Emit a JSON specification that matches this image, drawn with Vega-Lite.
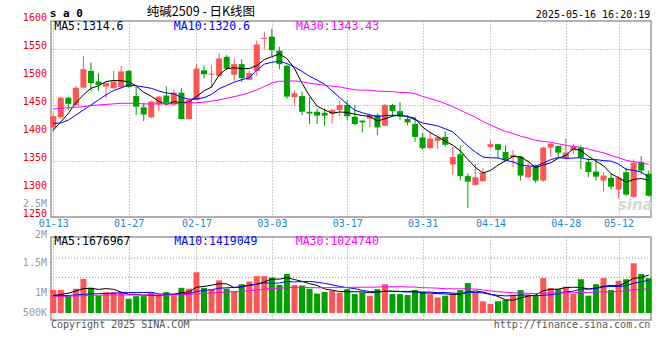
{
 "$schema": "https://vega.github.io/schema/vega-lite/v6.json",
 "background": "white",
 "padding": {"left": 22, "top": 5, "right": 0, "bottom": 0},
 "bounds": "flush",
 "spacing": 20,
 "config": {
  "view": {"stroke": "#9a9a9a", "strokeWidth": 1.5},
  "axis": {"labelFont": "DejaVu Sans Mono", "labelFontSize": 10, "labelOverlap": false, "ticks": false, "domain": false, "gridColor": "#9a9a9a", "gridDash": [1, 2], "gridWidth": 1},
  "text": {"font": "DejaVu Sans Mono"}
 },
 "datasets": {
  "k": [
   {"d":"01-13","o":1410,"h":1436,"l":1402,"c":1430,"v":1030000,"m5":1405,"m10":1417,"m30":1443,"vm5":780000,"vm10":770000,"vm30":740000},
   {"d":"01-14","o":1428,"h":1465,"l":1425,"c":1463,"v":1030000,"m5":1420,"m10":1418,"m30":1444,"vm5":820000,"vm10":770000,"vm30":740000},
   {"d":"01-15","o":1463,"h":1465,"l":1441,"c":1452,"v":750000,"m5":1435,"m10":1423,"m30":1445,"vm5":880000,"vm10":780000,"vm30":750000},
   {"d":"01-16","o":1450,"h":1484,"l":1448,"c":1481,"v":1080000,"m5":1454,"m10":1432,"m30":1446,"vm5":980000,"vm10":800000,"vm30":760000},
   {"d":"01-17","o":1481,"h":1537,"l":1480,"c":1514,"v":1520000,"m5":1468,"m10":1441,"m30":1447,"vm5":1082000,"vm10":830000,"vm30":770000},
   {"d":"01-20","o":1511,"h":1526,"l":1474,"c":1489,"v":1120000,"m5":1479.8,"m10":1450,"m30":1449,"vm5":1100000,"vm10":850000,"vm30":780000},
   {"d":"01-21","o":1492,"h":1507,"l":1475,"c":1486,"v":770000,"m5":1484.4,"m10":1459,"m30":1450,"vm5":1048000,"vm10":860000,"vm30":790000},
   {"d":"01-22","o":1483,"h":1490,"l":1462,"c":1489,"v":930000,"m5":1491.8,"m10":1468,"m30":1451,"vm5":1084000,"vm10":870000,"vm30":800000},
   {"d":"01-23","o":1480,"h":1511,"l":1479,"c":1492,"v":930000,"m5":1494,"m10":1476,"m30":1452,"vm5":1054000,"vm10":880000,"vm30":800000},
   {"d":"01-24","o":1482,"h":1520,"l":1480,"c":1510,"v":900000,"m5":1493.2,"m10":1480.6,"m30":1453,"vm5":930000,"vm10":900000,"vm30":800000},
   {"d":"01-27","o":1511,"h":1512,"l":1481,"c":1482,"v":630000,"m5":1491.8,"m10":1485.8,"m30":1453,"vm5":832000,"vm10":910000,"vm30":800000},
   {"d":"02-05","o":1466,"h":1483,"l":1432,"c":1447,"v":750000,"m5":1484,"m10":1484.2,"m30":1453,"vm5":828000,"vm10":910000,"vm30":800000},
   {"d":"02-06","o":1446,"h":1454,"l":1421,"c":1433,"v":750000,"m5":1472.8,"m10":1482.3,"m30":1452,"vm5":792000,"vm10":910000,"vm30":800000},
   {"d":"02-07","o":1428,"h":1458,"l":1426,"c":1456,"v":930000,"m5":1465.6,"m10":1479.8,"m30":1452,"vm5":792000,"vm10":920000,"vm30":800000},
   {"d":"02-10","o":1451,"h":1466,"l":1439,"c":1465,"v":780000,"m5":1456.6,"m10":1474.9,"m30":1452,"vm5":768000,"vm10":849000,"vm30":800000},
   {"d":"02-11","o":1467,"h":1483,"l":1452,"c":1454,"v":930000,"m5":1451,"m10":1471.4,"m30":1452,"vm5":828000,"vm10":830000,"vm30":800000},
   {"d":"02-12","o":1451,"h":1478,"l":1450,"c":1472,"v":780000,"m5":1456,"m10":1470,"m30":1452,"vm5":834000,"vm10":831000,"vm30":800000},
   {"d":"02-13","o":1472,"h":1480,"l":1424,"c":1425,"v":1120000,"m5":1454.4,"m10":1463.6,"m30":1453,"vm5":908000,"vm10":850000,"vm30":810000},
   {"d":"02-14","o":1425,"h":1461,"l":1424,"c":1459,"v":1080000,"m5":1455,"m10":1460.3,"m30":1454,"vm5":938000,"vm10":865000,"vm30":830000},
   {"d":"02-17","o":1459,"h":1523,"l":1458,"c":1515,"v":1810000,"m5":1465,"m10":1460.8,"m30":1454,"vm5":1144000,"vm10":956000,"vm30":850000},
   {"d":"02-18","o":1512,"h":1521,"l":1497,"c":1505,"v":1110000,"m5":1475.2,"m10":1463.1,"m30":1455,"vm5":1180000,"vm10":1004000,"vm30":870000},
   {"d":"02-19","o":1504,"h":1521,"l":1480,"c":1506,"v":1050000,"m5":1482,"m10":1469,"m30":1457,"vm5":1234000,"vm10":1034000,"vm30":890000},
   {"d":"02-20","o":1502,"h":1543,"l":1500,"c":1533,"v":1450000,"m5":1503.6,"m10":1479,"m30":1459,"vm5":1300000,"vm10":1104000,"vm30":910000},
   {"d":"02-21","o":1536,"h":1539,"l":1512,"c":1515,"v":1080000,"m5":1514.8,"m10":1484.9,"m30":1462,"vm5":1300000,"vm10":1119000,"vm30":930000},
   {"d":"02-24","o":1504,"h":1533,"l":1493,"c":1523,"v":960000,"m5":1516.4,"m10":1490.7,"m30":1465,"vm5":1130000,"vm10":1137000,"vm30":950000},
   {"d":"02-25","o":1523,"h":1532,"l":1491,"c":1498,"v":1280000,"m5":1515,"m10":1495.1,"m30":1468,"vm5":1164000,"vm10":1172000,"vm30":970000},
   {"d":"02-26","o":1495,"h":1512,"l":1494,"c":1507,"v":1400000,"m5":1515.2,"m10":1498.6,"m30":1472,"vm5":1234000,"vm10":1234000,"vm30":990000},
   {"d":"02-27","o":1511,"h":1565,"l":1502,"c":1558,"v":1640000,"m5":1520.2,"m10":1511.9,"m30":1477,"vm5":1272000,"vm10":1286000,"vm30":1020000},
   {"d":"02-28","o":1568,"h":1581,"l":1550,"c":1570,"v":1640000,"m5":1531.2,"m10":1523,"m30":1483,"vm5":1384000,"vm10":1342000,"vm30":1050000},
   {"d":"03-03","o":1572,"h":1586,"l":1537,"c":1548,"v":1580000,"m5":1536.2,"m10":1526.3,"m30":1489.2,"vm5":1508000,"vm10":1319000,"vm30":1094000},
   {"d":"03-04","o":1547,"h":1554,"l":1514,"c":1523,"v":1250000,"m5":1541.2,"m10":1528.1,"m30":1492.3,"vm5":1502000,"vm10":1333000,"vm30":1101000},
   {"d":"03-05","o":1520,"h":1522,"l":1461,"c":1465,"v":1730000,"m5":1532.8,"m10":1524,"m30":1492.4,"vm5":1568000,"vm10":1401000,"vm30":1124000},
   {"d":"03-06","o":1464,"h":1476,"l":1449,"c":1471,"v":1240000,"m5":1515.4,"m10":1517.8,"m30":1493,"vm5":1488000,"vm10":1380000,"vm30":1141000},
   {"d":"03-07","o":1466,"h":1474,"l":1432,"c":1438,"v":1220000,"m5":1489,"m10":1510.1,"m30":1491.6,"vm5":1404000,"vm10":1394000,"vm30":1145000},
   {"d":"03-10","o":1438,"h":1464,"l":1416,"c":1435,"v":1080000,"m5":1466.4,"m10":1501.3,"m30":1489,"vm5":1304000,"vm10":1406000,"vm30":1131000},
   {"d":"03-11","o":1438,"h":1444,"l":1416,"c":1431,"v":860000,"m5":1448,"m10":1494.6,"m30":1487,"vm5":1226000,"vm10":1364000,"vm30":1122000},
   {"d":"03-12","o":1436,"h":1444,"l":1413,"c":1431,"v":930000,"m5":1441.2,"m10":1487,"m30":1485.2,"vm5":1066000,"vm10":1317000,"vm30":1127000},
   {"d":"03-13","o":1435,"h":1444,"l":1417,"c":1441,"v":990000,"m5":1435.2,"m10":1475.3,"m30":1483.6,"vm5":1016000,"vm10":1252000,"vm30":1129000},
   {"d":"03-14","o":1441,"h":1458,"l":1430,"c":1450,"v":900000,"m5":1437.6,"m10":1463.3,"m30":1482.2,"vm5":952000,"vm10":1178000,"vm30":1128000},
   {"d":"03-17","o":1450,"h":1459,"l":1423,"c":1430,"v":1060000,"m5":1436.6,"m10":1451.5,"m30":1479.5,"vm5":948000,"vm10":1126000,"vm30":1134000},
   {"d":"03-18","o":1429,"h":1450,"l":1414,"c":1416,"v":840000,"m5":1433.6,"m10":1440.8,"m30":1477.3,"vm5":944000,"vm10":1085000,"vm30":1141000},
   {"d":"03-19","o":1422,"h":1423,"l":1401,"c":1419,"v":910000,"m5":1431.2,"m10":1436.2,"m30":1476.4,"vm5":940000,"vm10":1003000,"vm30":1146000},
   {"d":"03-20","o":1426,"h":1435,"l":1411,"c":1432,"v":770000,"m5":1429.4,"m10":1432.3,"m30":1476.4,"vm5":896000,"vm10":956000,"vm30":1147000},
   {"d":"03-21","o":1432,"h":1435,"l":1396,"c":1410,"v":1060000,"m5":1421.4,"m10":1429.5,"m30":1474.8,"vm5":928000,"vm10":940000,"vm30":1151000},
   {"d":"03-24","o":1413,"h":1452,"l":1412,"c":1450,"v":1280000,"m5":1425.4,"m10":1431,"m30":1474.3,"vm5":972000,"vm10":960000,"vm30":1168000},
   {"d":"03-25","o":1450,"h":1452,"l":1429,"c":1439,"v":840000,"m5":1430,"m10":1431.8,"m30":1473.8,"vm5":972000,"vm10":958000,"vm30":1165000},
   {"d":"03-26","o":1439,"h":1455,"l":1423,"c":1429,"v":840000,"m5":1432,"m10":1431.6,"m30":1472.4,"vm5":958000,"vm10":949000,"vm30":1167000},
   {"d":"03-27","o":1425,"h":1432,"l":1414,"c":1419,"v":800000,"m5":1429.4,"m10":1429.4,"m30":1472.2,"vm5":964000,"vm10":930000,"vm30":1156000},
   {"d":"03-28","o":1416,"h":1429,"l":1384,"c":1393,"v":1020000,"m5":1426,"m10":1423.7,"m30":1470,"vm5":956000,"vm10":942000,"vm30":1154000},
   {"d":"03-31","o":1392,"h":1400,"l":1370,"c":1373,"v":940000,"m5":1410.6,"m10":1418,"m30":1465.3,"vm5":888000,"vm10":930000,"vm30":1125000},
   {"d":"04-01","o":1373,"h":1402,"l":1371,"c":1390,"v":840000,"m5":1400.8,"m10":1415.4,"m30":1461.4,"vm5":888000,"vm10":930000,"vm30":1116000},
   {"d":"04-02","o":1386,"h":1394,"l":1372,"c":1392,"v":690000,"m5":1393.4,"m10":1412.7,"m30":1457.6,"vm5":858000,"vm10":908000,"vm30":1104000},
   {"d":"04-03","o":1393,"h":1403,"l":1376,"c":1379,"v":770000,"m5":1385.4,"m10":1407.4,"m30":1452.5,"vm5":852000,"vm10":908000,"vm30":1081000},
   {"d":"04-07","o":1344,"h":1375,"l":1326,"c":1357,"v":870000,"m5":1378.2,"m10":1402.1,"m30":1447.2,"vm5":822000,"vm10":889000,"vm30":1074000},
   {"d":"04-08","o":1362,"h":1377,"l":1315,"c":1323,"v":1020000,"m5":1368.2,"m10":1389.4,"m30":1440.6,"vm5":838000,"vm10":863000,"vm30":1076000},
   {"d":"04-09","o":1323,"h":1328,"l":1266,"c":1313,"v":1330000,"m5":1352.8,"m10":1376.8,"m30":1434.4,"vm5":936000,"vm10":912000,"vm30":1078000},
   {"d":"04-10","o":1307,"h":1345,"l":1306,"c":1321,"v":910000,"m5":1338.6,"m10":1366,"m30":1428.2,"vm5":980000,"vm10":919000,"vm30":1062000},
   {"d":"04-11","o":1314,"h":1337,"l":1313,"c":1329,"v":520000,"m5":1328.6,"m10":1357,"m30":1420.6,"vm5":930000,"vm10":891000,"vm30":1024000},
   {"d":"04-14","o":1375,"h":1387,"l":1374,"c":1380,"v":400000,"m5":1333.2,"m10":1355.7,"m30":1414.2,"vm5":836000,"vm10":829000,"vm30":983000},
   {"d":"04-15","o":1380,"h":1380,"l":1355,"c":1370,"v":520000,"m5":1342.6,"m10":1355.4,"m30":1408.3,"vm5":736000,"vm10":787000,"vm30":948000},
   {"d":"04-16","o":1366,"h":1378,"l":1350,"c":1351,"v":590000,"m5":1350.2,"m10":1351.5,"m30":1402.6,"vm5":588000,"vm10":762000,"vm30":926000},
   {"d":"04-17","o":1357,"h":1370,"l":1339,"c":1361,"v":810000,"m5":1358.2,"m10":1348.4,"m30":1399.1,"vm5":568000,"vm10":774000,"vm30":895000},
   {"d":"04-18","o":1358,"h":1359,"l":1315,"c":1324,"v":1020000,"m5":1357.2,"m10":1342.9,"m30":1394.2,"vm5":668000,"vm10":799000,"vm30":888000},
   {"d":"04-21","o":1321,"h":1349,"l":1319,"c":1340,"v":810000,"m5":1349.2,"m10":1341.2,"m30":1390.9,"vm5":750000,"vm10":793000,"vm30":874000},
   {"d":"04-22","o":1342,"h":1344,"l":1311,"c":1315,"v":770000,"m5":1338.2,"m10":1340.4,"m30":1386.9,"vm5":800000,"vm10":768000,"vm30":864000},
   {"d":"04-23","o":1315,"h":1375,"l":1313,"c":1374,"v":1550000,"m5":1342.8,"m10":1346.5,"m30":1385,"vm5":992000,"vm10":790000,"vm30":887000},
   {"d":"04-24","o":1374,"h":1382,"l":1357,"c":1381,"v":1110000,"m5":1346.8,"m10":1352.5,"m30":1383.4,"vm5":1052000,"vm10":810000,"vm30":893000},
   {"d":"04-25","o":1377,"h":1377,"l":1357,"c":1365,"v":1060000,"m5":1355,"m10":1356.1,"m30":1380.8,"vm5":1060000,"vm10":864000,"vm30":895000},
   {"d":"04-28","o":1355,"h":1390,"l":1353,"c":1365,"v":1170000,"m5":1360,"m10":1354.6,"m30":1378,"vm5":1132000,"vm10":941000,"vm30":904000},
   {"d":"04-29","o":1369,"h":1381,"l":1363,"c":1376,"v":840000,"m5":1372.2,"m10":1355.2,"m30":1376.2,"vm5":1146000,"vm10":973000,"vm30":897000},
   {"d":"04-30","o":1374,"h":1378,"l":1335,"c":1356,"v":1500000,"m5":1368.6,"m10":1355.7,"m30":1374.2,"vm5":1136000,"vm10":1064000,"vm30":919000},
   {"d":"05-06","o":1348,"h":1355,"l":1321,"c":1330,"v":770000,"m5":1358.4,"m10":1352.6,"m30":1371.2,"vm5":1068000,"vm10":1060000,"vm30":914000},
   {"d":"05-07","o":1331,"h":1353,"l":1315,"c":1322,"v":1280000,"m5":1349.8,"m10":1352.4,"m30":1367.6,"vm5":1112000,"vm10":1086000,"vm30":931000},
   {"d":"05-08","o":1315,"h":1330,"l":1296,"c":1324,"v":1550000,"m5":1341.6,"m10":1350.8,"m30":1364.7,"vm5":1188000,"vm10":1160000,"vm30":947000},
   {"d":"05-09","o":1320,"h":1328,"l":1299,"c":1304,"v":1020000,"m5":1327.2,"m10":1349.7,"m30":1359.8,"vm5":1224000,"vm10":1185000,"vm30":939000},
   {"d":"05-12","o":1299,"h":1323,"l":1283,"c":1320,"v":1430000,"m5":1320,"m10":1344.3,"m30":1355.9,"vm5":1210000,"vm10":1173000,"vm30":958000},
   {"d":"05-13","o":1330,"h":1338,"l":1287,"c":1290,"v":1500000,"m5":1312,"m10":1335.2,"m30":1351.2,"vm5":1356000,"vm10":1212000,"vm30":980000},
   {"d":"05-14","o":1286,"h":1353,"l":1284,"c":1347,"v":2210000,"m5":1317,"m10":1333.4,"m30":1348.8,"vm5":1542000,"vm10":1327000,"vm30":1027000},
   {"d":"05-15","o":1348,"h":1359,"l":1326,"c":1333,"v":1730000,"m5":1318.8,"m10":1330.2,"m30":1346.8,"vm5":1578000,"vm10":1383000,"vm30":1051000},
   {"d":"05-16","o":1327,"h":1333,"l":1286,"c":1288,"v":1550000,"m5":1315.6,"m10":1321.4,"m30":1344,"vm5":1684000,"vm10":1454000,"vm30":1071000}
  ]
 },
 "vconcat": [
  {
   "width": 600,
   "height": 196,
   "layer": [
    {
     "data": {"name": "k"},
     "mark": {"type": "rule", "strokeWidth": 1},
     "encoding": {
      "x": {"field": "d", "type": "ordinal", "title": null,
       "scale": {"type": "point", "padding": 0.3, "domain": ["01-13","01-14","01-15","01-16","01-17","01-20","01-21","01-22","01-23","01-24","01-27","02-05","02-06","02-07","02-10","02-11","02-12","02-13","02-14","02-17","02-18","02-19","02-20","02-21","02-24","02-25","02-26","02-27","02-28","03-03","03-04","03-05","03-06","03-07","03-10","03-11","03-12","03-13","03-14","03-17","03-18","03-19","03-20","03-21","03-24","03-25","03-26","03-27","03-28","03-31","04-01","04-02","04-03","04-07","04-08","04-09","04-10","04-11","04-14","04-15","04-16","04-17","04-18","04-21","04-22","04-23","04-24","04-25","04-28","04-29","04-30","05-06","05-07","05-08","05-09","05-12","05-13","05-14","05-15","05-16"]},
       "axis": {"values": ["01-13","01-27","02-17","03-03","03-17","03-31","04-14","04-28","05-12"], "labelColor": "#1a88d0", "labelFontSize": 10, "labelPadding": 1.5, "labelOverlap": false, "grid": true, "labelAngle": 0}},
      "y": {"field": "l", "type": "quantitative", "title": null,
       "scale": {"domain": [1250, 1600], "nice": false, "zero": false},
       "axis": {"values": [1250, 1300, 1350, 1400, 1450, 1500, 1550, 1600], "labels": false, "grid": true}},
      "y2": {"field": "h"},
      "color": {"condition": {"test": "datum.c >= datum.o", "value": "#ff5555"}, "value": "#00a000"}
     }
    },
    {
     "data": {"name": "k"},
     "mark": {"type": "bar", "size": 6},
     "encoding": {
      "x": {"field": "d", "type": "ordinal"},
      "y": {"field": "o", "type": "quantitative", "title": null},
      "y2": {"field": "c"},
      "color": {"condition": {"test": "datum.c >= datum.o", "value": "#ff5555"}, "value": "#00a000"}
     }
    },
    {
     "data": {"name": "k"},
     "mark": {"type": "line", "color": "#000000", "strokeWidth": 1},
     "encoding": {"x": {"field": "d", "type": "ordinal"}, "y": {"field": "m5", "type": "quantitative", "title": null}}
    },
    {
     "data": {"name": "k"},
     "mark": {"type": "line", "color": "#0000ff", "strokeWidth": 1},
     "encoding": {"x": {"field": "d", "type": "ordinal"}, "y": {"field": "m10", "type": "quantitative", "title": null}}
    },
    {
     "data": {"name": "k"},
     "mark": {"type": "line", "color": "#ff00ff", "strokeWidth": 1},
     "encoding": {"x": {"field": "d", "type": "ordinal"}, "y": {"field": "m30", "type": "quantitative", "title": null}}
    },
    {"data": {"values": [{}]}, "mark": {"type": "text", "align": "right", "baseline": "middle", "dx": -6.3, "dy": -2.8, "fontSize": 10, "color": "#ee0000"},
     "encoding": {"x": {"datum": "01-13", "type": "ordinal"}, "y": {"datum": 1600, "type": "quantitative"}, "text": {"value": "1600"}}},
    {"data": {"values": [{}]}, "mark": {"type": "text", "align": "right", "baseline": "middle", "dx": -6.3, "dy": -2.8, "fontSize": 10, "color": "#ee0000"},
     "encoding": {"x": {"datum": "01-13", "type": "ordinal"}, "y": {"datum": 1550, "type": "quantitative"}, "text": {"value": "1550"}}},
    {"data": {"values": [{}]}, "mark": {"type": "text", "align": "right", "baseline": "middle", "dx": -6.3, "dy": -2.8, "fontSize": 10, "color": "#ee0000"},
     "encoding": {"x": {"datum": "01-13", "type": "ordinal"}, "y": {"datum": 1500, "type": "quantitative"}, "text": {"value": "1500"}}},
    {"data": {"values": [{}]}, "mark": {"type": "text", "align": "right", "baseline": "middle", "dx": -6.3, "dy": -2.8, "fontSize": 10, "color": "#ee0000"},
     "encoding": {"x": {"datum": "01-13", "type": "ordinal"}, "y": {"datum": 1450, "type": "quantitative"}, "text": {"value": "1450"}}},
    {"data": {"values": [{}]}, "mark": {"type": "text", "align": "right", "baseline": "middle", "dx": -6.3, "dy": -2.8, "fontSize": 10, "color": "#ee0000"},
     "encoding": {"x": {"datum": "01-13", "type": "ordinal"}, "y": {"datum": 1400, "type": "quantitative"}, "text": {"value": "1400"}}},
    {"data": {"values": [{}]}, "mark": {"type": "text", "align": "right", "baseline": "middle", "dx": -6.3, "dy": -2.8, "fontSize": 10, "color": "#ee0000"},
     "encoding": {"x": {"datum": "01-13", "type": "ordinal"}, "y": {"datum": 1350, "type": "quantitative"}, "text": {"value": "1350"}}},
    {"data": {"values": [{}]}, "mark": {"type": "text", "align": "right", "baseline": "middle", "dx": -6.3, "dy": -2.8, "fontSize": 10, "color": "#ee0000"},
     "encoding": {"x": {"datum": "01-13", "type": "ordinal"}, "y": {"datum": 1300, "type": "quantitative"}, "text": {"value": "1300"}}},
    {"data": {"values": [{}]}, "mark": {"type": "text", "align": "right", "baseline": "middle", "dx": -6.3, "dy": -3.2, "fontSize": 10, "color": "#ee0000"},
     "encoding": {"x": {"datum": "01-13", "type": "ordinal"}, "y": {"datum": 1250, "type": "quantitative"}, "text": {"value": "1250"}}},
    {"data": {"values": [{}]}, "mark": {"type": "text", "align": "right", "baseline": "middle", "dx": -6.3, "fontSize": 10, "color": "#999999"},
     "encoding": {"x": {"datum": "01-13", "type": "ordinal"}, "y": {"datum": 1274, "type": "quantitative"}, "text": {"value": "2.5M"}}},
    {
     "data": {"values": [{}]},
     "mark": {"type": "text", "align": "right", "baseline": "middle", "dx": 4, "dy": -12, "fontSize": 15, "fontStyle": "italic", "fontWeight": "bold", "font": "DejaVu Sans", "color": "#d6d6d6"},
     "encoding": {"x": {"datum": "05-16", "type": "ordinal"}, "y": {"datum": 1250, "type": "quantitative"}, "text": {"value": "sina"}}
    },
    {
     "data": {"values": [{}]},
     "mark": {"type": "text", "align": "left", "baseline": "alphabetic", "dx": 1, "dy": 8.5, "fontSize": 11.5, "color": "#000000"},
     "encoding": {"x": {"datum": "01-13", "type": "ordinal"}, "y": {"datum": 1600, "type": "quantitative"}, "text": {"value": "MA5:1314.6"}}
    },
    {
     "data": {"values": [{}]},
     "mark": {"type": "text", "align": "left", "baseline": "alphabetic", "dx": 0, "dy": 8.5, "fontSize": 11.5, "color": "#0000ff"},
     "encoding": {"x": {"datum": "02-12", "type": "ordinal"}, "y": {"datum": 1600, "type": "quantitative"}, "text": {"value": "MA10:1320.6"}}
    },
    {
     "data": {"values": [{}]},
     "mark": {"type": "text", "align": "left", "baseline": "alphabetic", "dx": 1.6, "dy": 8.5, "fontSize": 11.5, "color": "#ff00ff"},
     "encoding": {"x": {"datum": "03-06", "type": "ordinal"}, "y": {"datum": 1600, "type": "quantitative"}, "text": {"value": "MA30:1343.43"}}
    },
    {
     "data": {"values": [{}]},
     "mark": {"type": "text", "align": "left", "baseline": "middle", "dx": -3.5, "dy": -7, "fontSize": 11, "fontWeight": "bold", "color": "#000000"},
     "encoding": {"x": {"datum": "01-13", "type": "ordinal"}, "y": {"datum": 1600, "type": "quantitative"}, "text": {"value": "s a 0"}}
    },
    {
     "data": {"values": [{}]},
     "mark": {"type": "text", "align": "center", "baseline": "middle", "dx": 4.5, "dy": -9.2, "fontSize": 12.5, "font": "Noto Sans CJK SC", "color": "#000000"},
     "encoding": {"x": {"datum": "02-17", "type": "ordinal"}, "y": {"datum": 1600, "type": "quantitative"}, "text": {"value": "纯碱2509 - 日K线图"}}
    },
    {
     "data": {"values": [{}]},
     "mark": {"type": "text", "align": "right", "baseline": "middle", "dx": 1.5, "dy": -6.3, "fontSize": 10, "color": "#000000"},
     "encoding": {"x": {"datum": "05-16", "type": "ordinal"}, "y": {"datum": 1600, "type": "quantitative"}, "text": {"value": "2025-05-16 16:20:19"}}
    }
   ]
  },
  {
   "width": 600,
   "height": 83,
   "layer": [
    {
     "data": {"values": [{}]},
     "mark": {"type": "rule", "color": "#9a9a9a", "strokeDash": [1, 2]},
     "encoding": {"y": {"datum": 1580000, "type": "quantitative"}}
    },
    {
     "data": {"values": [{}]},
     "mark": {"type": "rule", "color": "#9a9a9a", "strokeDash": [1, 2]},
     "encoding": {"y": {"datum": 2434000, "type": "quantitative"}}
    },
    {
     "data": {"name": "k"},
     "mark": {"type": "bar", "size": 6},
     "encoding": {
      "x": {"field": "d", "type": "ordinal", "title": null,
       "scale": {"type": "point", "padding": 0.3, "domain": ["01-13","01-14","01-15","01-16","01-17","01-20","01-21","01-22","01-23","01-24","01-27","02-05","02-06","02-07","02-10","02-11","02-12","02-13","02-14","02-17","02-18","02-19","02-20","02-21","02-24","02-25","02-26","02-27","02-28","03-03","03-04","03-05","03-06","03-07","03-10","03-11","03-12","03-13","03-14","03-17","03-18","03-19","03-20","03-21","03-24","03-25","03-26","03-27","03-28","03-31","04-01","04-02","04-03","04-07","04-08","04-09","04-10","04-11","04-14","04-15","04-16","04-17","04-18","04-21","04-22","04-23","04-24","04-25","04-28","04-29","04-30","05-06","05-07","05-08","05-09","05-12","05-13","05-14","05-15","05-16"]},
       "axis": {"values": ["01-13","01-27","02-17","03-03","03-17","03-31","04-14","04-28","05-12"], "labels": false, "grid": true}},
      "y": {"field": "v", "type": "quantitative", "title": null,
       "scale": {"domain": [-310000, 3376000], "nice": false, "zero": false},
       "axis": {"labels": false, "grid": false}},
      "y2": {"datum": 0},
      "color": {"condition": {"test": "datum.c >= datum.o", "value": "#ff5555"}, "value": "#00a000"}
     }
    },
    {
     "data": {"name": "k"},
     "mark": {"type": "line", "color": "#000000", "strokeWidth": 1},
     "encoding": {"x": {"field": "d", "type": "ordinal"}, "y": {"field": "vm5", "type": "quantitative", "title": null}}
    },
    {
     "data": {"name": "k"},
     "mark": {"type": "line", "color": "#0000ff", "strokeWidth": 1},
     "encoding": {"x": {"field": "d", "type": "ordinal"}, "y": {"field": "vm10", "type": "quantitative", "title": null}}
    },
    {
     "data": {"name": "k"},
     "mark": {"type": "line", "color": "#ff00ff", "strokeWidth": 1},
     "encoding": {"x": {"field": "d", "type": "ordinal"}, "y": {"field": "vm30", "type": "quantitative", "title": null}}
    },
    {
     "data": {"values": [{}]},
     "mark": {"type": "text", "align": "right", "baseline": "middle", "dx": -6.3, "dy": -2.4, "fontSize": 10, "color": "#999999"},
     "encoding": {"x": {"datum": "01-13", "type": "ordinal"}, "y": {"datum": 3376000, "type": "quantitative"}, "text": {"value": "2M"}}
    },
    {
     "data": {"values": [{}]},
     "mark": {"type": "text", "align": "right", "baseline": "middle", "dx": -6.3, "fontSize": 10, "color": "#999999"},
     "encoding": {"x": {"datum": "01-13", "type": "ordinal"}, "y": {"datum": 2226000, "type": "quantitative"}, "text": {"value": "1.5M"}}
    },
    {
     "data": {"values": [{}]},
     "mark": {"type": "text", "align": "right", "baseline": "middle", "dx": -6.3, "fontSize": 10, "color": "#999999"},
     "encoding": {"x": {"datum": "01-13", "type": "ordinal"}, "y": {"datum": 898000, "type": "quantitative"}, "text": {"value": "1M"}}
    },
    {
     "data": {"values": [{}]},
     "mark": {"type": "text", "align": "right", "baseline": "middle", "dx": -6.3, "fontSize": 10, "color": "#999999"},
     "encoding": {"x": {"datum": "01-13", "type": "ordinal"}, "y": {"datum": 0, "type": "quantitative"}, "text": {"value": "500K"}}
    },
    {
     "data": {"values": [{}]},
     "mark": {"type": "text", "align": "left", "baseline": "alphabetic", "dx": 1, "dy": 7.5, "fontSize": 11.5, "color": "#000000"},
     "encoding": {"x": {"datum": "01-13", "type": "ordinal"}, "y": {"datum": 3376000, "type": "quantitative"}, "text": {"value": "MA5:1676967"}}
    },
    {
     "data": {"values": [{}]},
     "mark": {"type": "text", "align": "left", "baseline": "alphabetic", "dx": 0.5, "dy": 7.5, "fontSize": 11.5, "color": "#0000ff"},
     "encoding": {"x": {"datum": "02-12", "type": "ordinal"}, "y": {"datum": 3376000, "type": "quantitative"}, "text": {"value": "MA10:1419049"}}
    },
    {
     "data": {"values": [{}]},
     "mark": {"type": "text", "align": "left", "baseline": "alphabetic", "dx": 1.3, "dy": 7.5, "fontSize": 11.5, "color": "#ff00ff"},
     "encoding": {"x": {"datum": "03-06", "type": "ordinal"}, "y": {"datum": 3376000, "type": "quantitative"}, "text": {"value": "MA30:1024740"}}
    },
    {
     "data": {"values": [{}]},
     "mark": {"type": "text", "align": "left", "baseline": "middle", "dx": -2.3, "dy": 5, "fontSize": 10, "color": "#555555"},
     "encoding": {"x": {"datum": "01-13", "type": "ordinal"}, "y": {"datum": -310000, "type": "quantitative"}, "text": {"value": "Copyright 2025 SINA.COM"}}
    },
    {
     "data": {"values": [{}]},
     "mark": {"type": "text", "align": "right", "baseline": "middle", "dx": 1.5, "dy": 5, "fontSize": 10, "color": "#555555"},
     "encoding": {"x": {"datum": "05-16", "type": "ordinal"}, "y": {"datum": -310000, "type": "quantitative"}, "text": {"value": "http://finance.sina.com.cn"}}
    }
   ]
  }
 ]
}
